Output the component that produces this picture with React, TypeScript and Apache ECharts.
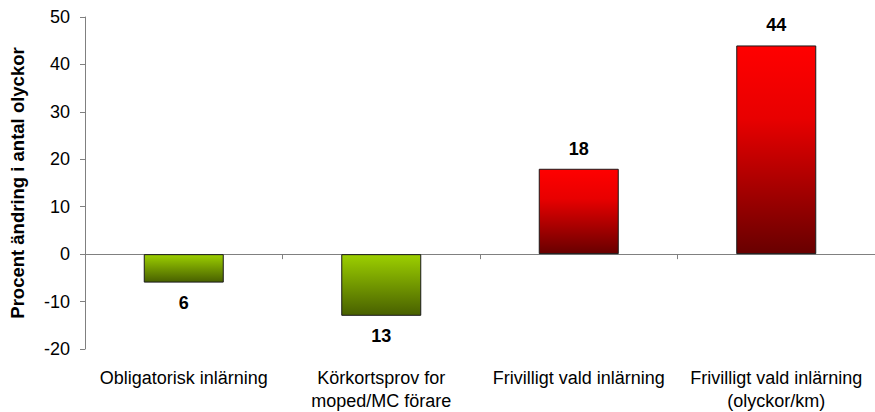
import React, { useEffect, useRef } from "react";
import * as echarts from "echarts";

const categories = [
  "Obligatorisk inlärning",
  "Körkortsprov for\nmoped/MC förare",
  "Frivilligt vald inlärning",
  "Frivilligt vald inlärning\n(olyckor/km)",
];
const values = [-6, -13, 18, 44];
const yTicks = { min: -20, max: 50, interval: 10 };
const yTitle = "Procent ändring i antal olyckor";

const FONT = "'Liberation Sans', Arial, Helvetica, sans-serif";

export default function App() {
  const ref = useRef<HTMLDivElement>(null);
  useEffect(() => {
    if (!ref.current) return;
    const chart = echarts.init(ref.current, undefined, { renderer: "svg" });
    const green = new echarts.graphic.LinearGradient(0, 0, 0, 1, [
      { offset: 0, color: "#9ccf00" },
      { offset: 1, color: "#486000" },
    ]);
    const red = new echarts.graphic.LinearGradient(0, 0, 0, 1, [
      { offset: 0, color: "#ff0000" },
      { offset: 0.35, color: "#e80000" },
      { offset: 1, color: "#680000" },
    ]);
    chart.setOption({
      animation: false,
      textStyle: { fontFamily: FONT },
      grid: { left: 84, top: 17, bottom: 63, width: 795 },
      xAxis: [
        {
          type: "category",
          data: categories,
          axisLine: { show: false, onZero: false },
          axisTick: { show: false },
          axisLabel: {
            color: "#000",
            fontSize: 18,
            fontFamily: FONT,
            margin: 17,
            lineHeight: 23,
            interval: 0,
          },
        },
        {
          type: "category",
          data: categories,
          position: "bottom",
          axisLine: { show: true, onZero: true, lineStyle: { color: "#808080", width: 1 } },
          axisTick: { show: true, length: 5, lineStyle: { color: "#808080" } },
          axisLabel: { show: false },
        },
      ],
      yAxis: {
        type: "value",
        min: yTicks.min,
        max: yTicks.max,
        interval: yTicks.interval,
        name: yTitle,
        nameLocation: "middle",
        nameGap: 58,
        nameTextStyle: { color: "#000", fontSize: 18.5, fontWeight: "bold", fontFamily: FONT },
        splitLine: { show: false },
        axisLine: { show: true, lineStyle: { color: "#808080", width: 1 } },
        axisTick: { show: true, length: 5, lineStyle: { color: "#808080" } },
        axisLabel: { color: "#000", fontSize: 18, fontFamily: FONT, margin: 15 },
      },
      series: [
        {
          type: "bar",
          xAxisIndex: 0,
          barWidth: 80,
          data: values.map((v) => ({
            value: v,
            itemStyle: { color: v < 0 ? green : red, borderColor: "#1a1a1a", borderWidth: 1 },
            label: {
              show: true,
              position: v < 0 ? "bottom" : "top",
              distance: 11,
              formatter: () => String(Math.abs(v)),
              color: "#000",
              fontSize: 18,
              fontWeight: "bold",
              fontFamily: FONT,
            },
          })),
        },
      ],
    });
    return () => chart.dispose();
  }, []);
  return <div ref={ref} style={{ width: 875, height: 412, position: "absolute", left: 0, top: 0 }} />;
}
